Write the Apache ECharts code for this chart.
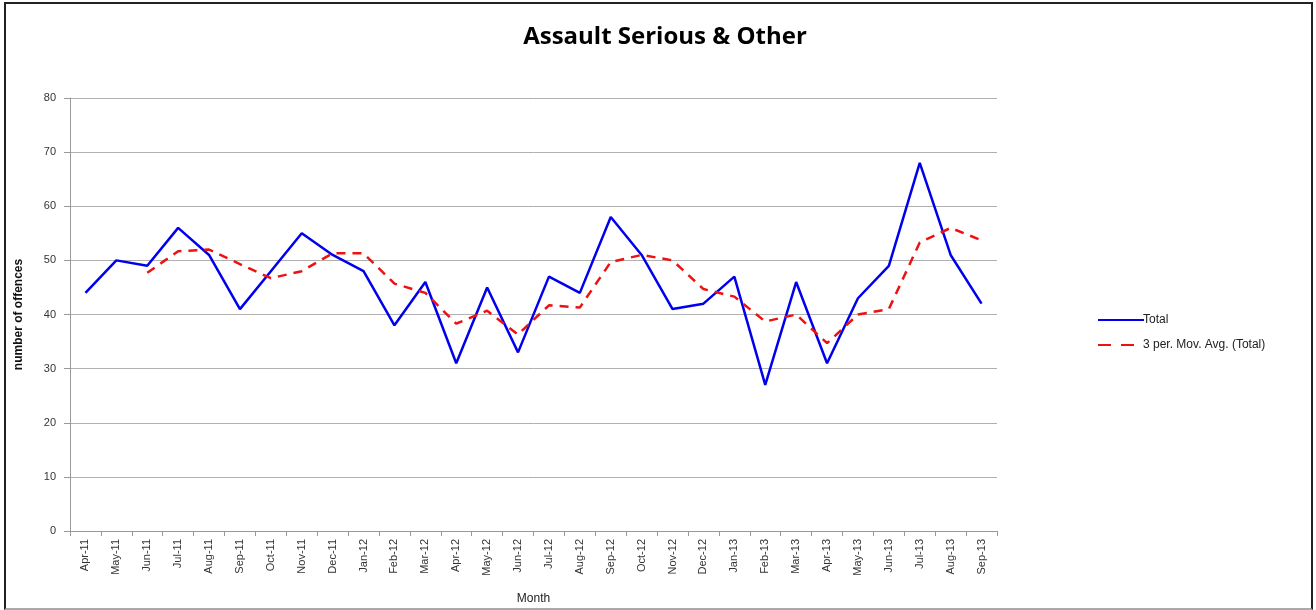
<!DOCTYPE html>
<html><head><meta charset="utf-8">
<script src="https://cdn.jsdelivr.net/npm/echarts@6/dist/echarts.min.js"></script>
<style>
html,body{margin:0;padding:0;background:#fff;}
#frame{position:absolute;left:4px;top:2px;width:1305px;height:604px;border:2px solid #222;border-bottom:2px solid #aaa;box-sizing:content-box;}
#c{position:absolute;left:0;top:0;width:1316px;height:610px;}
</style></head>
<body>
<div id="frame"></div>
<div id="c"></div>
<script>
const categories = ["Apr-11","May-11","Jun-11","Jul-11","Aug-11","Sep-11","Oct-11","Nov-11","Dec-11","Jan-12","Feb-12","Mar-12","Apr-12","May-12","Jun-12","Jul-12","Aug-12","Sep-12","Oct-12","Nov-12","Dec-12","Jan-13","Feb-13","Mar-13","Apr-13","May-13","Jun-13","Jul-13","Aug-13","Sep-13"];
const total = [44,50,49,56,51,41,48,55,51,48,38,46,31,45,33,47,44,58,51,41,42,47,27,46,31,43,49,68,51,42];
const movAvg = [null,null,47.7,51.7,52,49.3,46.7,48,51.3,51.3,45.7,44,38.3,40.7,36.3,41.7,41.3,49.7,51,50,44.7,43.3,38.7,40,34.7,40,41,53.3,56,53.7];
const chart = echarts.init(document.getElementById('c'));
chart.setOption({
  animation:false,
  title:{text:'Assault Serious & Other',left:660,top:20,textAlign:'center',
    textStyle:{fontFamily:'Open Sans',fontWeight:'bold',fontSize:24,color:'#000'}},
  grid:{left:70,right:319,top:98,bottom:78},
  legend:{orient:'vertical',left:1093,top:309,itemGap:13,itemWidth:46,itemHeight:10,
    textStyle:{fontFamily:'Liberation Sans',fontSize:12,color:'#222',padding:[0,0,0,-6]},
    data:[{name:'Total',icon:'path://M0,4L46,4L46,6L0,6Z'},
          {name:'3 per. Mov. Avg. (Total)',icon:'path://M0,4L13,4L13,6L0,6ZM23,4L36,4L36,6L23,6ZM46,4L46,6L45.9,6L45.9,4Z',itemStyle:{color:'#ee1111'}}]},
  xAxis:{type:'category',data:categories,boundaryGap:true,
    name:'Month',nameLocation:'middle',nameGap:62,
    nameTextStyle:{fontFamily:'Liberation Sans',fontSize:12,color:'#222'},
    axisLine:{lineStyle:{color:'#999'}},
    axisTick:{show:true,alignWithLabel:false,length:5,lineStyle:{color:'#999'}},
    axisLabel:{rotate:90,interval:0,fontFamily:'Liberation Sans',fontSize:11,color:'#333',margin:8}},
  yAxis:{type:'value',min:0,max:80,interval:10,
    name:'number of offences',nameLocation:'middle',nameGap:45,
    nameTextStyle:{fontFamily:'Liberation Sans',fontSize:12,fontWeight:'bold',color:'#111'},
    axisLine:{show:true,lineStyle:{color:'#999'}},
    axisTick:{show:true,length:6,inside:false,lineStyle:{color:'#999'}},
    splitLine:{lineStyle:{color:'#b0b0b0',width:1}},
    axisLabel:{fontFamily:'Liberation Sans',fontSize:11,color:'#333',margin:14}},
  series:[
    {name:'Total',type:'line',data:total,symbol:'none',lineStyle:{color:'#0000ee',width:2.5},itemStyle:{color:'#0000ee'}},
    {name:'3 per. Mov. Avg. (Total)',type:'line',data:movAvg,symbol:'none',connectNulls:false,
     lineStyle:{color:'#ee1111',width:2.5,type:[9,7]},itemStyle:{color:'#ee1111'}}
  ]
});
</script>
</body></html>
